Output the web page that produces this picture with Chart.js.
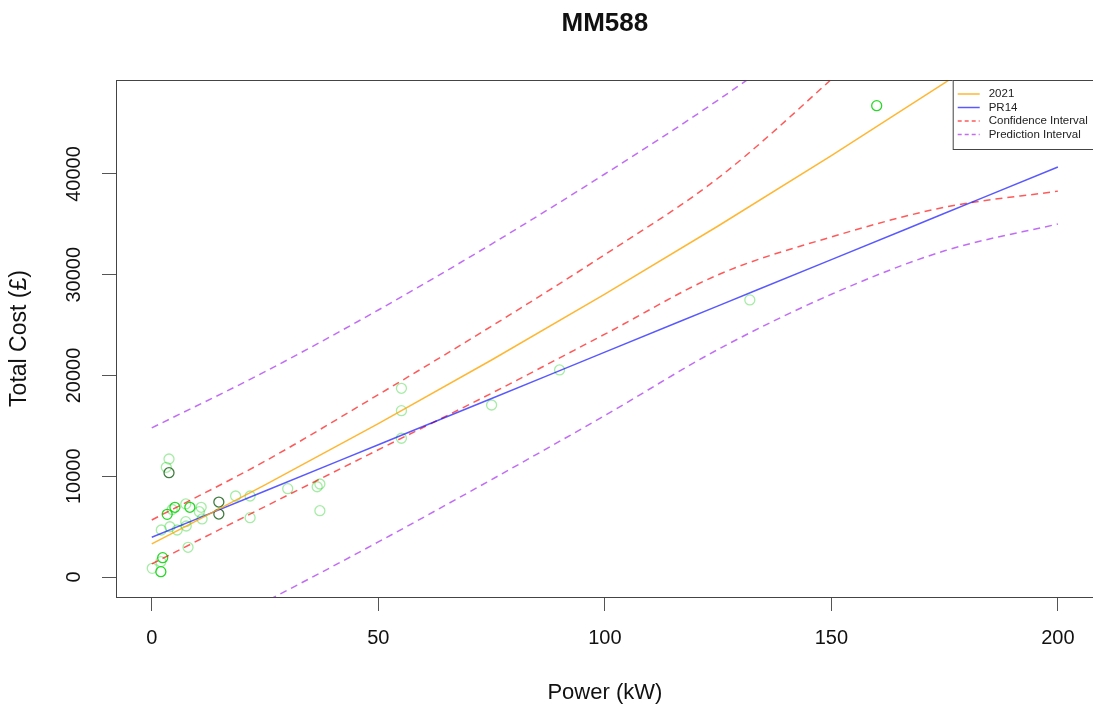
<!DOCTYPE html>
<html>
<head>
<meta charset="utf-8">
<script src="https://cdn.jsdelivr.net/npm/chart.js@4.4.0/dist/chart.umd.min.js"></script>
<style>
  html, body { margin: 0; padding: 0; background: #fff; overflow: hidden; }
</style>
</head>
<body>
<canvas id="mm588" width="1100" height="709"></canvas>
<script>
// curves at these power values (kW)
var lineX = [0, 25, 50, 75, 100, 125, 150, 175, 200];
var fit2021 = [3280, 9140, 15230, 21540, 28070, 34840, 41820, 49040, 56480];
var pr14 = [3940, 8540, 13130, 17720, 22320, 26910, 31500, 36100, 40700];
var ciUpper = [5660, 11500, 18100, 24900, 32000, 39600, 49400, 60000, 71000];
var ciLower = [1300, 6990, 12630, 18240, 24100, 30000, 33750, 36700, 38300];
var piUpper = [14800, 20380, 26500, 33050, 40000, 47340, 55340, 63500, 72000];
var piLower = [-8100, -2460, 3480, 9670, 16030, 22590, 28060, 32380, 35040];

// observed schemes [power, total cost]
var pointsLight = [[3.8, 11710], [3.2, 10890], [2.1, 4665], [4.0, 4990], [5.6, 4665], [7.5, 5490],
  [7.6, 5060], [10.5, 6480], [11.1, 5760], [10.9, 6920], [7.5, 7250], [8.0, 2950], [0.1, 860],
  [2.0, 1520], [4.5, 6700], [18.5, 8040], [21.7, 8040], [21.7, 5890], [30, 8770], [36.5, 8960],
  [37.1, 9230], [37.1, 6580], [55.1, 18730], [55.1, 16510], [55.1, 13770], [75, 17070],
  [90, 20550], [132, 27500]];
var pointsBright = [[3.4, 6220], [5.1, 6920], [8.4, 6920], [2.4, 1920], [2.0, 530], [160, 46780]];
var pointsDark = [[3.8, 10350], [14.8, 7440], [14.8, 6250]];

var xTicks = [0, 50, 100, 150, 200];
var yTicks = [0, 10000, 20000, 30000, 40000];

var legendNames = ["2021", "PR14", "Confidence Interval", "Prediction Interval"];

var FONT = "'Liberation Sans', Arial, sans-serif";
var cOrange = "rgba(255,165,0,0.8)";
var cBlue = "rgba(0,0,255,0.65)";
var cRed = "rgba(255,0,0,0.65)";
var cPurple = "rgba(160,32,240,0.65)";
var dash = [7, 5];

function curve(ys) {
  return lineX.map(function (x, i) { return {x: x, y: ys[i]}; });
}
function pts(list) {
  return list.map(function (p) { return {x: p[0], y: p[1]}; });
}
function lineSet(label, ys, color, dashed) {
  return {
    type: 'line', label: label, data: curve(ys), borderColor: color, borderWidth: 1.5,
    borderDash: dashed ? dash : [], pointRadius: 0, fill: false,
    cubicInterpolationMode: 'monotone'
  };
}
function pointSet(label, list, color) {
  return {
    type: 'scatter', label: label, data: pts(list), showLine: false,
    pointRadius: 5, pointBorderWidth: 1.3, pointBorderColor: color,
    pointBackgroundColor: 'rgba(0,0,0,0)', pointHoverRadius: 5
  };
}

// box round the plot region, R style
var boxPlugin = {
  id: 'box',
  afterDraw: function (chart) {
    var a = chart.chartArea, ctx = chart.ctx;
    ctx.save();
    ctx.strokeStyle = '#444';
    ctx.lineWidth = 1;
    ctx.strokeRect(a.left + 0.5, a.top + 0.5, a.right - a.left, a.bottom - a.top);
    ctx.restore();
  }
};

// legend in the top right corner of the plot
var legendPlugin = {
  id: 'rlegend',
  afterDraw: function (chart) {
    var a = chart.chartArea, ctx = chart.ctx;
    var left = a.right - 141, top = a.top;
    var colors = [cOrange, cBlue, cRed, cPurple];
    var dashed = [false, false, true, true];
    ctx.save();
    ctx.fillStyle = '#fff';
    ctx.fillRect(left, top, 160, 69);
    ctx.strokeStyle = '#444';
    ctx.lineWidth = 1;
    ctx.strokeRect(left + 0.5, top + 0.5, 160, 69);
    ctx.font = '11.5px ' + FONT;
    ctx.textBaseline = 'middle';
    for (var i = 0; i < legendNames.length; i++) {
      var y = top + 14 + i * 13.5;
      ctx.beginPath();
      ctx.setLineDash(dashed[i] ? [4, 3] : []);
      ctx.strokeStyle = colors[i];
      ctx.lineWidth = 1.5;
      ctx.moveTo(left + 5, y);
      ctx.lineTo(left + 27, y);
      ctx.stroke();
      ctx.setLineDash([]);
      ctx.fillStyle = '#222';
      ctx.fillText(legendNames[i], left + 36, y);
    }
    ctx.restore();
  }
};

new Chart(document.getElementById("mm588"), {
  type: 'scatter',
  data: {
    datasets: [
      lineSet("2021", fit2021, cOrange, false),
      lineSet("PR14", pr14, cBlue, false),
      lineSet("Confidence Interval", ciUpper, cRed, true),
      lineSet("Confidence Interval lower", ciLower, cRed, true),
      lineSet("Prediction Interval", piUpper, cPurple, true),
      lineSet("Prediction Interval lower", piLower, cPurple, true),
      pointSet("dark", pointsDark, "rgba(0,80,0,0.75)"),
      pointSet("bright", pointsBright, "rgba(0,210,0,0.85)"),
      pointSet("light", pointsLight, "rgba(0,200,0,0.35)")
    ]
  },
  options: {
    responsive: false,
    animation: false,
    layout: { padding: { left: 0, right: 2, top: 0, bottom: 0 } },
    plugins: {
      legend: { display: false },
      tooltip: { enabled: false },
      title: {
        display: true,
        text: 'MM588',
        fullSize: false,
        color: '#111',
        font: { family: FONT, size: 26, weight: 'bold', lineHeight: 1.2 },
        padding: { top: 8.4, bottom: 40.4 }
      }
    },
    scales: {
      x: {
        type: 'linear',
        min: -7.9, max: 207.9,
        afterFit: function (s) { s.height = 112; },
        afterBuildTicks: function (s) { s.ticks = xTicks.map(function (v) { return {value: v}; }); },
        grid: { display: true, drawOnChartArea: false, drawTicks: true, tickLength: 14, color: '#555' },
        border: { display: true, color: '#444' },
        ticks: { color: '#111', font: { family: FONT, size: 20 }, padding: 15, maxRotation: 0,
                 callback: function (v) { return String(v); } },
        title: { display: true, text: 'Power (kW)', color: '#111',
                 font: { family: FONT, size: 22, lineHeight: 1.2 }, padding: { top: 0, bottom: 3 } }
      },
      y: {
        type: 'linear',
        min: -1985, max: 49330,
        afterFit: function (s) { s.width = 116; },
        afterBuildTicks: function (s) { s.ticks = yTicks.map(function (v) { return {value: v}; }); },
        grid: { display: true, drawOnChartArea: false, drawTicks: true, tickLength: 14, color: '#555' },
        border: { display: true, color: '#444' },
        ticks: { color: '#111', font: { family: FONT, size: 20 }, padding: 0,
                 minRotation: 90, maxRotation: 90, crossAlign: 'center',
                 callback: function (v) { return String(v); } },
        title: { display: true, text: 'Total Cost (£)', color: '#111',
                 font: { family: FONT, size: 23, lineHeight: 1.2 }, padding: { top: 6, bottom: 0 } }
      }
    }
  },
  plugins: [boxPlugin, legendPlugin]
});
</script>
</body>
</html>
